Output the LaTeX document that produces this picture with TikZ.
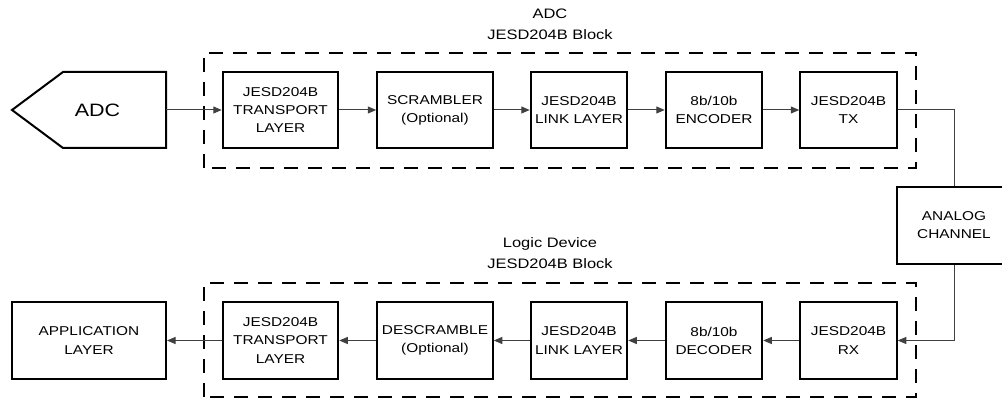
\documentclass[tikz,border=0pt]{standalone}
\usepackage{fontspec}
\setmainfont{Liberation Sans}
\newfontfamily\wideface[FakeStretch=1.2]{Liberation Sans}
\usetikzlibrary{arrows.meta}

\begin{document}
\begin{tikzpicture}[
  block/.style={rectangle, draw, line width=0.04cm, minimum height=1.53cm, align=center, inner sep=0pt, font=\wideface\fontsize{7.3}{10.3}\selectfont},
  wideblock/.style={block, minimum width=2.31cm},
  narrowblock/.style={block, minimum width=1.93cm},
  frame/.style={draw, line width=0.04cm, dash pattern=on 0.28cm off 0.2cm},
  title/.style={align=center, font=\wideface\fontsize{7.8}{11.95}\selectfont},
  link/.style={draw=black!75, line width=0.02cm},
  arrow/.style={link, -{Triangle[length=0.17cm,width=0.14cm]}}
]
\useasboundingbox (0,0) rectangle (20.04,8);

% dashed frames and their titles
\draw[frame] (4.08,4.64) rectangle (18.32,6.94);
\draw[frame] (4.08,0.06) rectangle (18.32,2.34);
\node[title] (adctitle) at (11.0,7.52) {ADC\\JESD204B Block};
\node[title] (logictitle) at (11.0,2.94) {Logic Device\\JESD204B Block};

% ADC source
\draw[line width=0.04cm] (1.26,6.56) -- (3.32,6.56) -- (3.32,5.04) -- (1.26,5.04) -- (0.24,5.8) -- cycle;
\node[font=\wideface\fontsize{10.2}{12}\selectfont] (adc) at (1.95,5.8) {ADC};
\coordinate (adcout) at (3.32,5.8);

% transmit chain
\node[wideblock] (transp) at (5.61,5.8) {JESD204B\\TRANSPORT\\LAYER};
\node[wideblock] (scram) at (8.70,5.8) {SCRAMBLER\\(Optional)};
\node[narrowblock] (link) at (11.58,5.8) {JESD204B\\LINK LAYER};
\node[narrowblock] (enc) at (14.28,5.8) {8b/10b\\ENCODER};
\node[narrowblock] (tx) at (16.97,5.8) {JESD204B\\TX};

\node[block, minimum width=2.28cm] (analog) at (19.08,3.49) {ANALOG\\CHANNEL};

% receive chain
\node[narrowblock] (rx) at (16.97,1.19) {JESD204B\\RX};
\node[narrowblock] (dec) at (14.28,1.19) {8b/10b\\DECODER};
\node[narrowblock] (link2) at (11.58,1.19) {JESD204B\\LINK LAYER};
\node[wideblock] (descr) at (8.70,1.19) {DESCRAMBLE\\(Optional)};
\node[wideblock] (transp2) at (5.61,1.19) {JESD204B\\TRANSPORT\\LAYER};
\node[block, minimum width=3.08cm] (app) at (1.78,1.19) {APPLICATION\\LAYER};

\draw[arrow] (adcout) -- (transp);
\draw[arrow] (transp) -- (scram);
\draw[arrow] (scram) -- (link);
\draw[arrow] (link) -- (enc);
\draw[arrow] (enc) -- (tx);
\draw[link] (tx.east) -| (analog.north);

\draw[arrow] (analog.south) |- (rx.east);
\draw[arrow] (rx) -- (dec);
\draw[arrow] (dec) -- (link2);
\draw[arrow] (link2) -- (descr);
\draw[arrow] (descr) -- (transp2);
\draw[arrow] (transp2) -- (app);
\end{tikzpicture}
\end{document}
